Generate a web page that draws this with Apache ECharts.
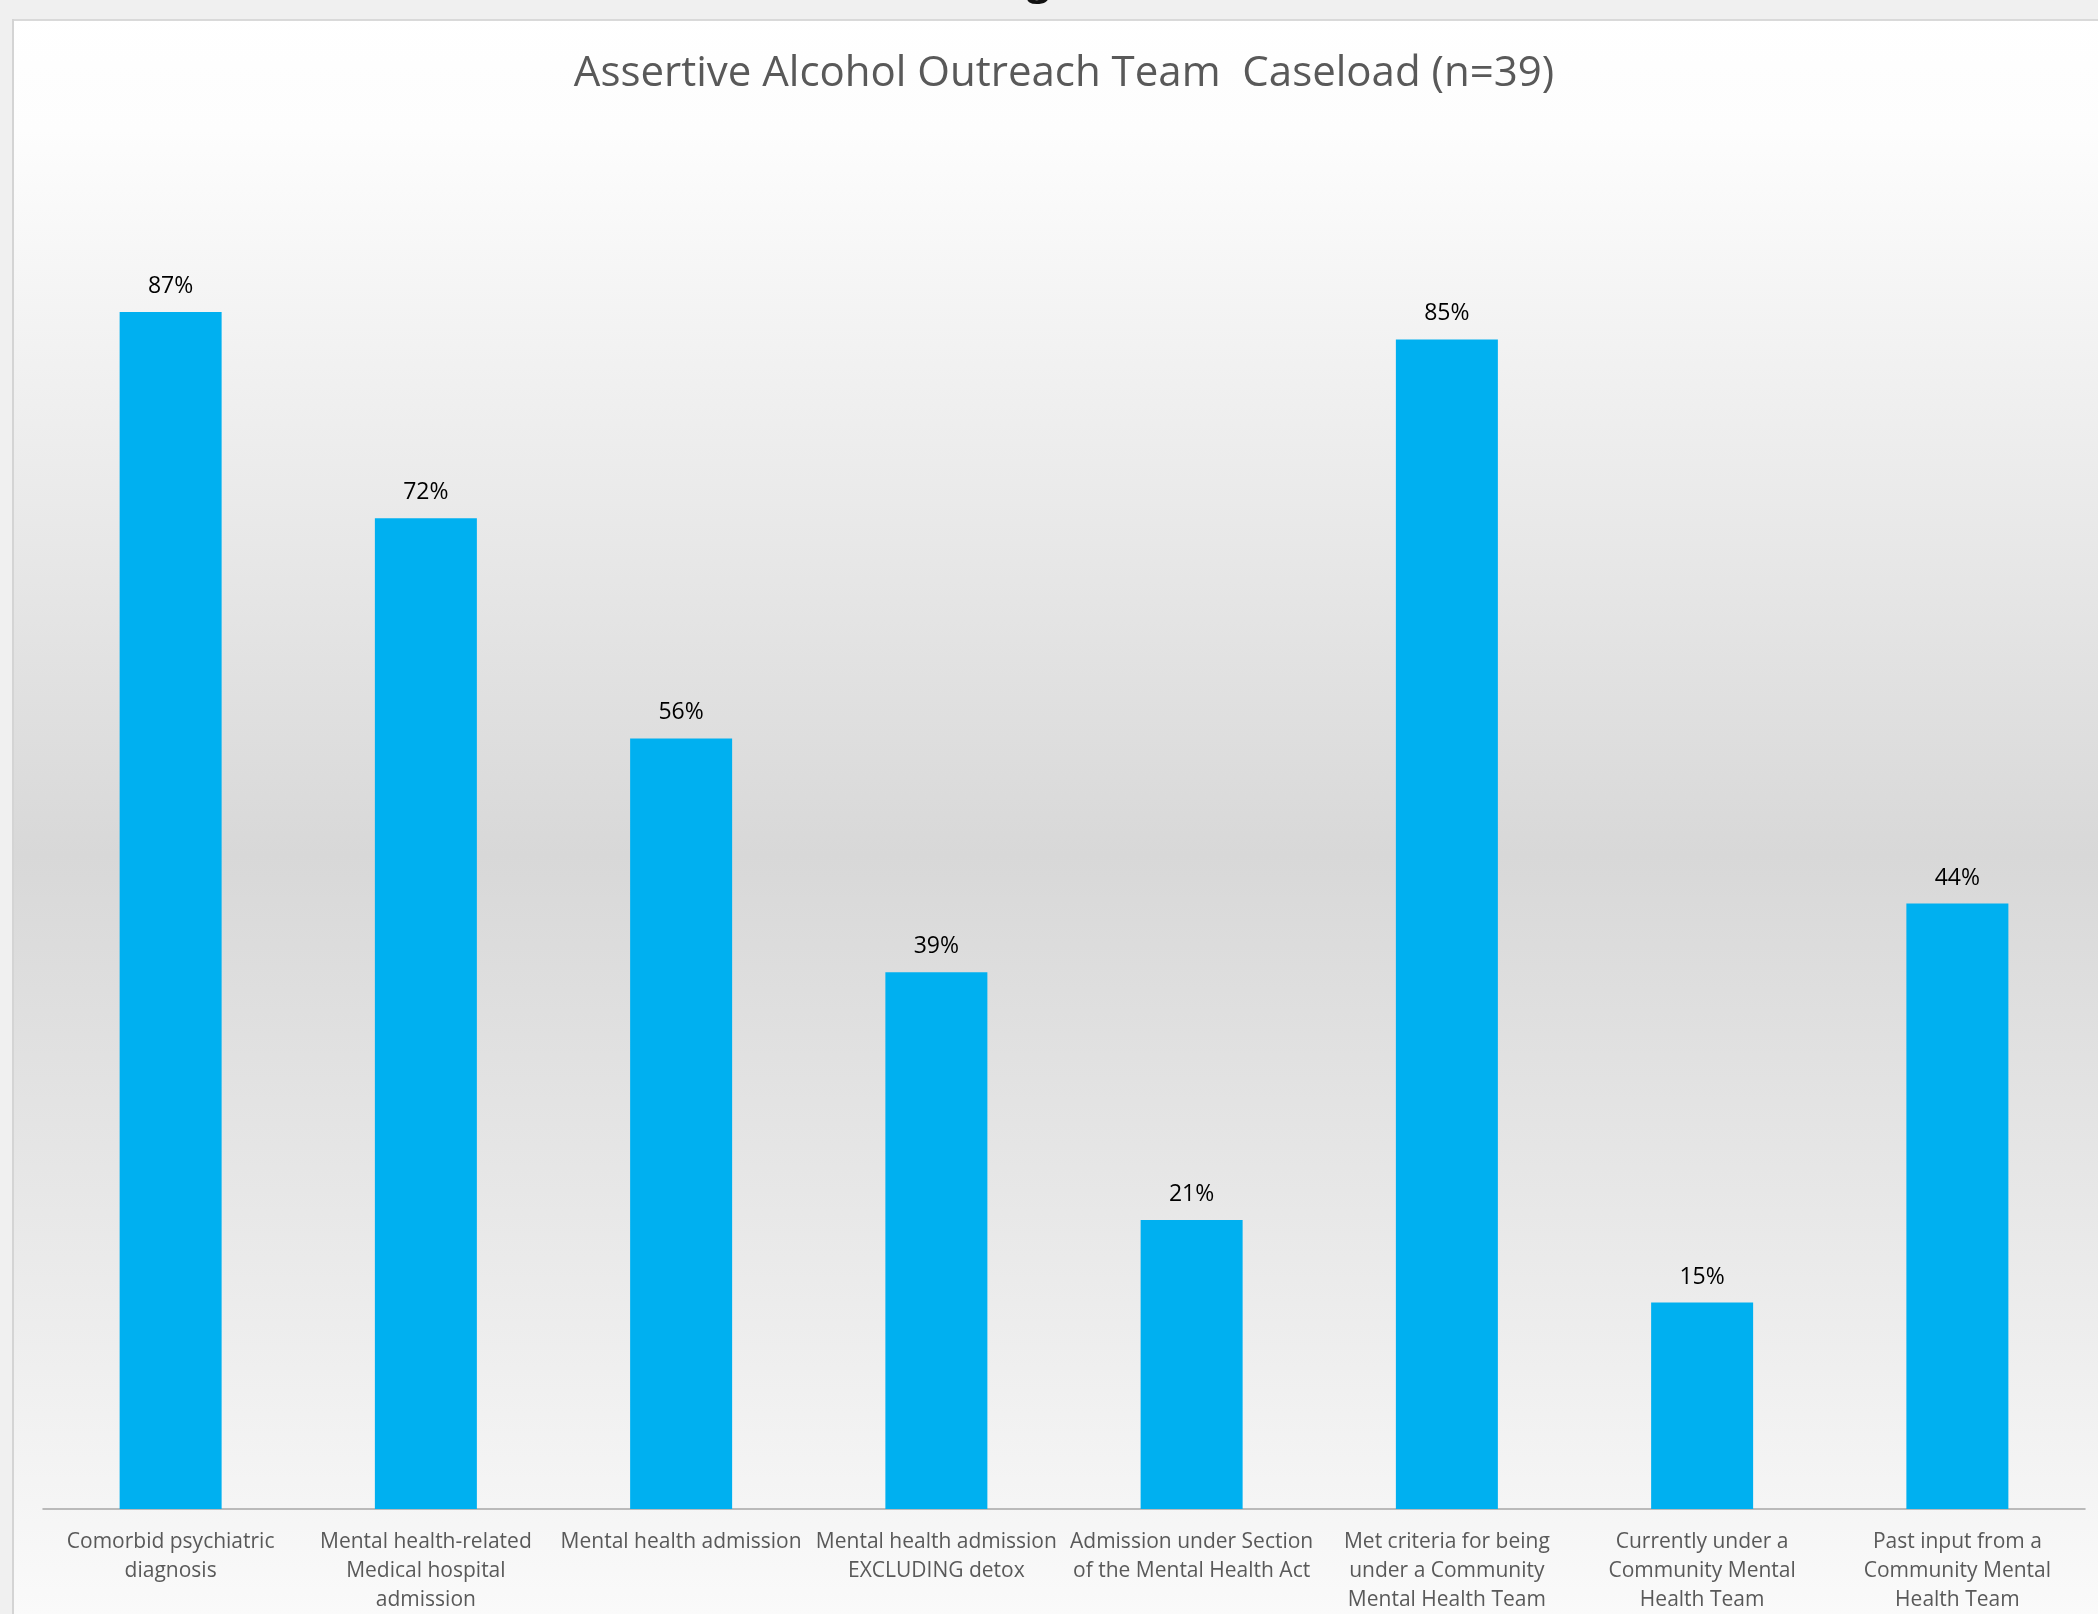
<!DOCTYPE html>
<html>
<head>
<meta charset="utf-8">
<title>Assertive Alcohol Outreach Team Caseload</title>
<script src="https://cdn.jsdelivr.net/npm/echarts@6/dist/echarts.min.js"></script>
<style>
  html, body { margin: 0; padding: 0; background: #f0f0f0; }
  #chart { width: 2098px; height: 1614px; }
</style>
</head>
<body>
<div id="chart"></div>
<script>
const titleText = 'Assertive Alcohol Outreach Team  Caseload (n=39)'
const categories = [
  'Comorbid psychiatric\ndiagnosis',
  'Mental health-related\nMedical hospital\nadmission',
  'Mental health admission',
  'Mental health admission\nEXCLUDING detox',
  'Admission under Section\nof the Mental Health Act',
  'Met criteria for being\nunder a Community\nMental Health Team',
  'Currently under a\nCommunity Mental\nHealth Team',
  'Past input from a\nCommunity Mental\nHealth Team'
]
const percentValues = [87, 72, 56, 39, 21, 85, 15, 44]

const font = "'Open Sans', 'Noto Sans', sans-serif"
const chart = echarts.init(document.getElementById('chart'))

chart.setOption({
  animation: false,
  backgroundColor: new echarts.graphic.LinearGradient(0, 0, 0, 1, [
    { offset: 0, color: '#ffffff' },
    { offset: 0.08, color: '#fdfdfd' },
    { offset: 0.53, color: '#d8d8d8' },
    { offset: 1, color: '#fafafa' }
  ]),
  // window chrome around the chart: grey strips + border lines
  graphic: [
    { type: 'rect', z: 100, shape: { x: 0, y: 0, width: 2098, height: 19 }, style: { fill: '#f0f0f0' } },
    { type: 'rect', z: 100, shape: { x: 0, y: 19, width: 2098, height: 2 }, style: { fill: '#d9d9d9' } },
    { type: 'rect', z: 100, shape: { x: 0, y: 0, width: 12, height: 1614 }, style: { fill: '#f0f0f0' } },
    { type: 'rect', z: 100, shape: { x: 12, y: 19, width: 2, height: 1595 }, style: { fill: '#d4d4d4' } },
    {
      type: 'text', z: 101, left: 1027, top: -36,
      style: { text: 'g', fill: '#111', font: "bold 40px 'Open Sans', sans-serif" }
    }
  ],
  title: {
    text: titleText,
    left: 1064,
    top: 53,
    padding: 0,
    textAlign: 'center',
    textStyle: {
      fontFamily: font,
      fontSize: 42,
      lineHeight: 42,
      fontWeight: 'normal',
      color: '#595959'
    }
  },
  grid: {
    left: 43,
    right: 13,
    top: 133,
    bottom: 105,
    outerBoundsMode: 'none'
  },
  xAxis: {
    type: 'category',
    data: categories,
    axisTick: { show: false },
    axisLine: { lineStyle: { color: '#a6a6a6', width: 1.5 } },
    axisLabel: {
      interval: 0,
      margin: 19,
      fontFamily: font,
      fontSize: 21,
      lineHeight: 29,
      color: '#595959',
      align: 'center'
    }
  },
  yAxis: {
    type: 'value',
    min: 0,
    max: 100,
    show: false,
    splitLine: { show: false }
  },
  series: [{
    type: 'bar',
    data: percentValues,
    barWidth: 102,
    itemStyle: { color: '#00b0f0' },
    label: {
      show: true,
      position: 'top',
      distance: 14,
      fontFamily: font,
      fontSize: 23,
      color: '#000000',
      formatter: p => p.value + '%'
    }
  }]
})
</script>
</body>
</html>
